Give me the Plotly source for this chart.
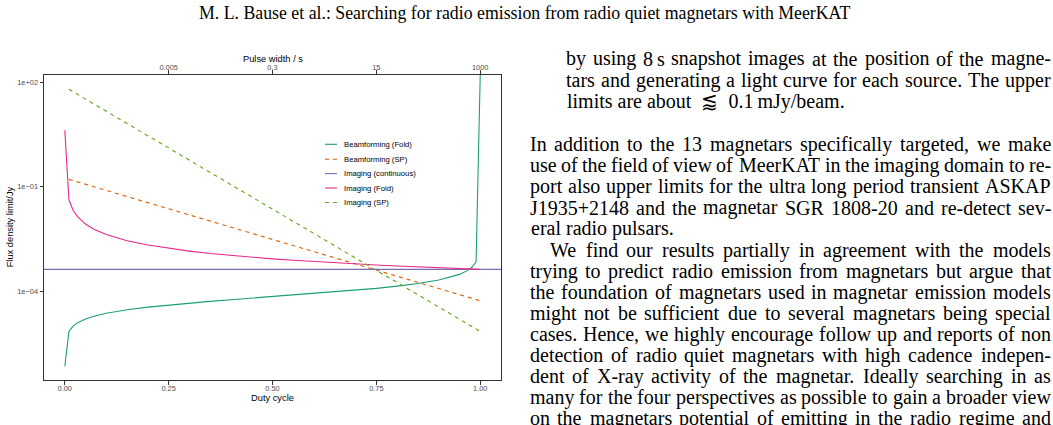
import plotly.graph_objects as go

# ---------------- data ----------------
DUTY_CYCLE = [0.0001, 0.01, 0.02, 0.03, 0.05, 0.07, 0.1, 0.15, 0.2, 0.25, 0.3, 0.35,
              0.4, 0.45, 0.5, 0.55, 0.6, 0.65, 0.7, 0.75, 0.8, 0.85, 0.9, 0.93, 0.95,
              0.97, 0.98, 0.99, 1.0]
BEAMFORMING_FOLD = [6.9e-7, 6.93e-6, 9.86e-6, 1.213e-5, 1.583e-5, 1.893e-5, 2.30e-5,
                    2.899e-5, 3.45e-5, 3.98e-5, 4.52e-5, 5.06e-5, 5.63e-5, 6.24e-5,
                    6.9e-5, 7.63e-5, 8.45e-5, 9.40e-5, 1.054e-4, 1.195e-4, 1.38e-4,
                    1.643e-4, 2.07e-4, 2.515e-4, 3.01e-4, 3.92e-4, 4.83e-4, 6.87e-4, 165.0]
IMAGING_FOLD = [4.2, 0.042, 0.021, 0.014, 0.0084, 0.006, 0.0042, 0.0028, 0.0021, 0.00168,
                0.0014, 0.0012, 0.00105, 0.000933, 0.00084, 0.000764, 0.0007, 0.000646,
                0.0006, 0.00056, 0.000525, 0.000494, 0.000467, 0.000452, 0.000442,
                0.000433, 0.000429, 0.000424, 0.00042]
SP_DUTY_CYCLE = [0.01, 0.25, 0.5, 0.75, 1.0]
BEAMFORMING_SP = [0.162, 0.0231, 0.00304, 0.000399, 0.0000525]
IMAGING_SP = [63.0, 1.30, 0.0226, 0.000396, 0.0000069]
IMAGING_CONTINUOUS = 4.2e-4

SERIES_NAMES = ["Beamforming (Fold)", "Beamforming (SP)", "Imaging (continuous)",
                "Imaging (Fold)", "Imaging (SP)"]
X_TICKS = [0.0, 0.25, 0.5, 0.75, 1.0]
X_TICK_LABELS = ["0.00", "0.25", "0.50", "0.75", "1.00"]
TOP_TICKS = [0.25, 0.5, 0.75, 1.0]
TOP_TICK_LABELS = ["0.005", "0.3", "15", "1000"]
Y_TICKS = [1e2, 1e-1, 1e-4]
Y_TICK_LABELS = ["1e+02", "1e\u221201", "1e\u221204"]

HEADER = "M. L. Bause et al.: Searching for radio emission from radio quiet magnetars with MeerKAT"
BODY_LINES = [
    "by using 8\u2009s snapshot images at the position of the magne-",
    "tars and generating a light curve for each source. The upper",
    "limits are about\u2002\u2A85\u20020.1\u2009mJy/beam.",
    "In addition to the 13 magnetars specifically targeted, we make",
    "use of the field of view of MeerKAT in the imaging domain to re-",
    "port also upper limits for the ultra long period transient ASKAP",
    "J1935+2148 and the magnetar SGR 1808-20 and re-detect sev-",
    "eral radio pulsars.",
    "We find our results partially in agreement with the models",
    "trying to predict radio emission from magnetars but argue that",
    "the foundation of magnetars used in magnetar emission models",
    "might not be sufficient due to several magnetars being special",
    "cases. Hence, we highly encourage follow up and reports of non",
    "detection of radio quiet magnetars with high cadence indepen-",
    "dent of X-ray activity of the magnetar. Ideally searching in as",
    "many for the four perspectives as possible to gain a broader view",
    "on the magnetars potential of emitting in the radio regime and",
]

# ---------------- layout / style ----------------
W, H = 1053, 425
def px(x): return x / W
def py(y): return 1 - y / H

PLOT_L, PLOT_R, PLOT_T, PLOT_B = 44, 501, 74.7, 380
X_RANGE = [-0.05, 1.05]
Y_RANGE_LOG = [-6.557, 2.218]
COLORS = ["#1B9E77", "#D95F02", "#7570B3", "#E7298A", "#66A61E"]
DASHES = ["solid", "4px,4px", "solid", "solid", "4px,4px"]
SANS = "Liberation Sans, Arial, sans-serif"
SERIF = "Liberation Serif, Times New Roman, serif"
LW = 1.1

fig = go.Figure()
fig.add_trace(go.Scatter(x=DUTY_CYCLE, y=BEAMFORMING_FOLD, mode="lines", name=SERIES_NAMES[0],
                         line=dict(color=COLORS[0], width=LW, dash=DASHES[0])))
fig.add_trace(go.Scatter(x=SP_DUTY_CYCLE, y=BEAMFORMING_SP, mode="lines", name=SERIES_NAMES[1],
                         line=dict(color=COLORS[1], width=LW, dash=DASHES[1])))
fig.add_trace(go.Scatter(x=X_RANGE, y=[IMAGING_CONTINUOUS, IMAGING_CONTINUOUS], mode="lines",
                         name=SERIES_NAMES[2], line=dict(color=COLORS[2], width=LW)))
fig.add_trace(go.Scatter(x=DUTY_CYCLE, y=IMAGING_FOLD, mode="lines", name=SERIES_NAMES[3],
                         line=dict(color=COLORS[3], width=LW, dash=DASHES[3])))
fig.add_trace(go.Scatter(x=SP_DUTY_CYCLE, y=IMAGING_SP, mode="lines", name=SERIES_NAMES[4],
                         line=dict(color=COLORS[4], width=LW, dash=DASHES[4])))
# carrier for the secondary (top) axis
fig.add_trace(go.Scatter(x=[], y=[], xaxis="x2", mode="lines", hoverinfo="skip"))

axis_common = dict(showgrid=False, zeroline=False, showline=True, mirror=True,
                   linecolor="#333333", linewidth=1, ticks="outside", ticklen=3.5,
                   tickwidth=1, tickcolor="#333333",
                   tickfont=dict(family=SANS, size=7.4, color="#4D4D4D"))

fig.update_layout(
    width=W, height=H, margin=dict(l=0, r=0, t=0, b=0),
    paper_bgcolor="white", plot_bgcolor="white", showlegend=False,
    xaxis=dict(domain=[px(PLOT_L), px(PLOT_R)], range=X_RANGE, tickmode="array",
               tickvals=X_TICKS, ticktext=X_TICK_LABELS, anchor="y",
               ticklabelstandoff=-2, **axis_common),
    xaxis2=dict(domain=[px(PLOT_L), px(PLOT_R)], range=X_RANGE, overlaying="x", side="top",
                anchor="y", tickmode="array", tickvals=TOP_TICKS, ticktext=TOP_TICK_LABELS,
                showgrid=False, zeroline=False, showline=False, ticks="outside", ticklen=3.5,
                tickwidth=1, tickcolor="#333333", ticklabelstandoff=-3,
                tickfont=dict(family=SANS, size=7.4, color="#4D4D4D")),
    yaxis=dict(domain=[py(PLOT_B), py(PLOT_T)], type="log", range=Y_RANGE_LOG,
               tickmode="array", tickvals=Y_TICKS, ticktext=Y_TICK_LABELS, **axis_common),
)

ann = []
# axis titles
ann.append(dict(text="Duty cycle", x=px((PLOT_L + PLOT_R) / 2), y=py(398.3), xref="paper",
                yref="paper", showarrow=False, xanchor="center", yanchor="middle",
                font=dict(family=SANS, size=9.3, color="black")))
ann.append(dict(text="Pulse width / s", x=px((PLOT_L + PLOT_R) / 2), y=py(58.5), xref="paper",
                yref="paper", showarrow=False, xanchor="center", yanchor="middle",
                font=dict(family=SANS, size=9.3, color="black")))
ann.append(dict(text="Flux density limit/Jy", x=px(10), y=py((PLOT_T + PLOT_B) / 2),
                xref="paper", yref="paper", showarrow=False, textangle=-90,
                xanchor="center", yanchor="middle",
                font=dict(family=SANS, size=9.3, color="black")))

# legend (drawn inside the panel)
shapes = []
LEG_Y = [144.3, 159.3, 173.6, 188.0, 202.5]
for name, col, dash, ly in zip(SERIES_NAMES, COLORS, DASHES, LEG_Y):
    shapes.append(dict(type="line", xref="paper", yref="paper", x0=px(325), x1=px(337),
                       y0=py(ly), y1=py(ly), line=dict(color=col, width=LW,
                       dash=("solid" if dash == "solid" else "4px,4px"))))
    ann.append(dict(text=name, x=px(342.7), y=py(ly), xref="paper", yref="paper",
                    showarrow=False, xanchor="left", yanchor="middle", borderpad=0,
                    font=dict(family=SANS, size=7.7, color="black")))

# running header
ann.append(dict(text=HEADER, x=px(524.5), y=py(13.5), xref="paper", yref="paper",
                showarrow=False, xanchor="center", yanchor="middle",
                font=dict(family=SERIF, size=17.8, color="black")))

# body text column (justified word by word)
TIMES = {' ': 250, ',': 250, '-': 333, '.': 250, '/': 278, ':': 278, '+': 564, '(': 333,
         ')': 333, '\u2009': 167, '\u2002': 500, '\u2A85': 549}
for c in "0123456789": TIMES[c] = 500
TIMES.update(dict(zip("ABCDEFGHIJKLMNOPQRSTUVWXYZ",
    [722, 667, 667, 722, 611, 556, 722, 722, 333, 389, 722, 611, 889, 722, 722, 556, 722,
     667, 556, 611, 722, 722, 944, 722, 722, 611])))
TIMES.update(dict(zip("abcdefghijklmnopqrstuvwxyz",
    [444, 500, 444, 500, 444, 333, 500, 500, 278, 278, 500, 278, 778, 500, 500, 500, 500,
     333, 389, 278, 500, 500, 722, 500, 500, 444])))
BODY_SIZE = 20.0
def tw(s):
    return sum(TIMES.get(c, 500) for c in s) * BODY_SIZE / 1000 * 1.006

COL_R = 1051
LINE_X = [566, 566, 566, 530, 530, 530, 530, 530, 549, 530, 530, 530, 530, 530, 530, 530, 530]
LINE_Y = [59, 80, 101, 144, 165.2, 186.4, 207.6, 228.8, 250, 271, 292, 313, 334, 355, 376, 397, 418]
JUSTIFIED = [True, True, False, True, True, True, True, False, True, True, True, True, True,
             True, True, True, True]
body_font = dict(family=SERIF, size=BODY_SIZE, color="black")
for text, x0, y, just in zip(BODY_LINES, LINE_X, LINE_Y, JUSTIFIED):
    if not just:
        ann.append(dict(text=text, x=px(x0), y=py(y), xref="paper", yref="paper",
                        showarrow=False, xanchor="left", yanchor="middle", borderpad=0,
                        font=body_font))
        continue
    words = text.split(" ")
    widths = [tw(w) for w in words]
    gap = (COL_R - x0 - sum(widths)) / (len(words) - 1)
    x = x0
    for w, wd in zip(words, widths):
        ann.append(dict(text=w, x=px(x + wd / 2), y=py(y), xref="paper",
                        yref="paper", showarrow=False, xanchor="center",
                        yanchor="middle", borderpad=0, font=body_font))
        x += wd + gap

fig.update_layout(annotations=ann, shapes=shapes)
fig.write_html("out.html")
